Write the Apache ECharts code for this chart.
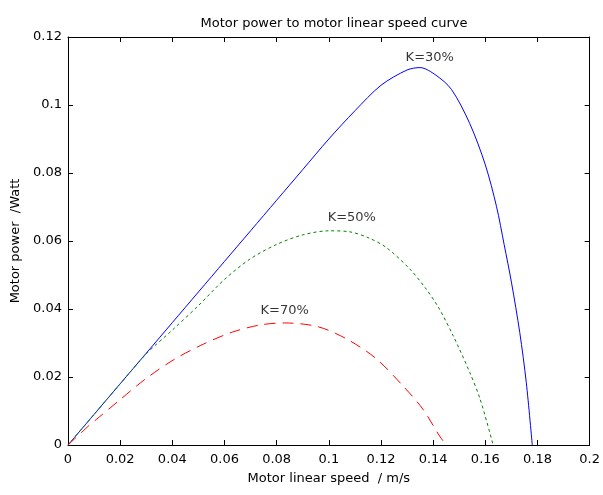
<!DOCTYPE html>
<html>
<head>
<meta charset="utf-8">
<script src="https://cdn.jsdelivr.net/npm/echarts@6/dist/echarts.min.js"></script>
<style>
  html, body { margin: 0; padding: 0; background: #fff; }
  #chart { width: 603px; height: 495px; }
</style>
</head>
<body>
<div id="chart"></div>
<script>
// data: [speed m/s, power W]
const k30 = [
  [0, 0], [0.01, 0.009], [0.02, 0.018], [0.03, 0.027], [0.04, 0.036],
  [0.05, 0.045], [0.06, 0.054], [0.07, 0.063], [0.08, 0.072], [0.09, 0.081],
  [0.1, 0.09], [0.11, 0.0983], [0.12, 0.1058], [0.13, 0.1103], [0.135, 0.111],
  [0.141, 0.1088], [0.147, 0.1046], [0.154, 0.0946], [0.16, 0.0824],
  [0.1643, 0.0701], [0.1672, 0.059], [0.17, 0.0479], [0.1732, 0.0331],
  [0.1757, 0.0184], [0.178, 0]
];
const k50 = [
  [0, 0], [0.01, 0.009], [0.02, 0.018], [0.03, 0.0268], [0.04, 0.0338],
  [0.05, 0.041], [0.06, 0.0487], [0.07, 0.0548], [0.08, 0.059], [0.09, 0.0618],
  [0.1, 0.063], [0.108, 0.0627], [0.115, 0.061], [0.122, 0.0581], [0.131, 0.0518],
  [0.137, 0.0462], [0.142, 0.0405], [0.1477, 0.0321], [0.154, 0.0214],
  [0.158, 0.0135], [0.163, 0]
];
const k70 = [
  [0, 0], [0.008, 0.0057], [0.011, 0.0076], [0.0193, 0.0129], [0.03, 0.0196],
  [0.041, 0.0253], [0.052, 0.0297], [0.063, 0.0332], [0.0736, 0.0353],
  [0.083, 0.0359], [0.0958, 0.0348], [0.1068, 0.0312], [0.118, 0.0255],
  [0.1284, 0.0174], [0.136, 0.0106], [0.1425, 0.0026], [0.145, 0]
];
const curveNames = ['K=30%', 'K=50%', 'K=70%'];
// where each curve's text label sits
const labelSpots = [[0.1387, 0.1138], [0.1088, 0.0670], [0.0831, 0.0396]];

const font = 'DejaVu Sans';
let chart = echarts.init(document.getElementById('chart'), null, { renderer: 'canvas' });

let tickStyle = { show: true, inside: true, length: 5, lineStyle: { color: '#000' } };
let lineStyle = { show: true, onZero: false, lineStyle: { color: '#000', width: 1 } };
let labelStyle = { color: '#000', fontFamily: font, fontSize: 13 };
let fmt = v => String(+v.toFixed(2));

let xBase = { type: 'value', min: 0, max: 0.2, interval: 0.02, splitLine: { show: false } };
let yBase = { type: 'value', min: 0, max: 0.12, interval: 0.02, splitLine: { show: false } };

let options = {
  animation: false,
  backgroundColor: '#fff',
  title: {
    text: 'Motor power to motor linear speed curve',
    left: 329, top: 12, textAlign: 'center',
    textStyle: { fontFamily: font, fontSize: 13, fontWeight: 'normal', color: '#000' }
  },
  grid: { left: 68, right: 13, top: 37, bottom: 50, show: false },
  xAxis: [
    Object.assign({}, xBase, {
      position: 'bottom',
      axisLine: lineStyle, axisTick: tickStyle,
      axisLabel: Object.assign({ margin: 8, formatter: fmt }, labelStyle),
      name: 'Motor linear speed  / m/s', nameLocation: 'middle', nameGap: 27,
      nameTextStyle: labelStyle
    }),
    Object.assign({}, xBase, {
      position: 'top', axisLine: lineStyle, axisTick: tickStyle, axisLabel: { show: false }
    })
  ],
  yAxis: [
    Object.assign({}, yBase, {
      position: 'left',
      axisLine: lineStyle, axisTick: tickStyle,
      axisLabel: Object.assign({ margin: 6, formatter: fmt }, labelStyle),
      name: 'Motor power  /Watt', nameLocation: 'middle', nameGap: 43,
      nameTextStyle: labelStyle
    }),
    Object.assign({}, yBase, {
      position: 'right', axisLine: lineStyle, axisTick: tickStyle, axisLabel: { show: false }
    })
  ],
  series: [
    {
      name: curveNames[0], type: 'line', data: k30, smooth: 0.3, symbol: 'none',
      lineStyle: { color: '#0000ff', width: 1, type: 'solid' }
    },
    {
      name: curveNames[1], type: 'line', data: k50, smooth: 0.3, symbol: 'none',
      lineStyle: { color: '#008000', width: 1, type: [3, 3] }
    },
    {
      name: curveNames[2], type: 'line', data: k70, smooth: 0.3, symbol: 'none',
      lineStyle: { color: '#ff0000', width: 1, type: [11, 7] }
    },
    {
      type: 'scatter', symbolSize: 0, silent: true,
      data: labelSpots.map((p, i) => ({ value: p, name: curveNames[i] })),
      label: {
        show: true, position: 'inside', formatter: p => p.name,
        fontFamily: font, fontSize: 13, color: '#000'
      }
    }
  ]
};

chart.setOption(options);
</script>
</body>
</html>
